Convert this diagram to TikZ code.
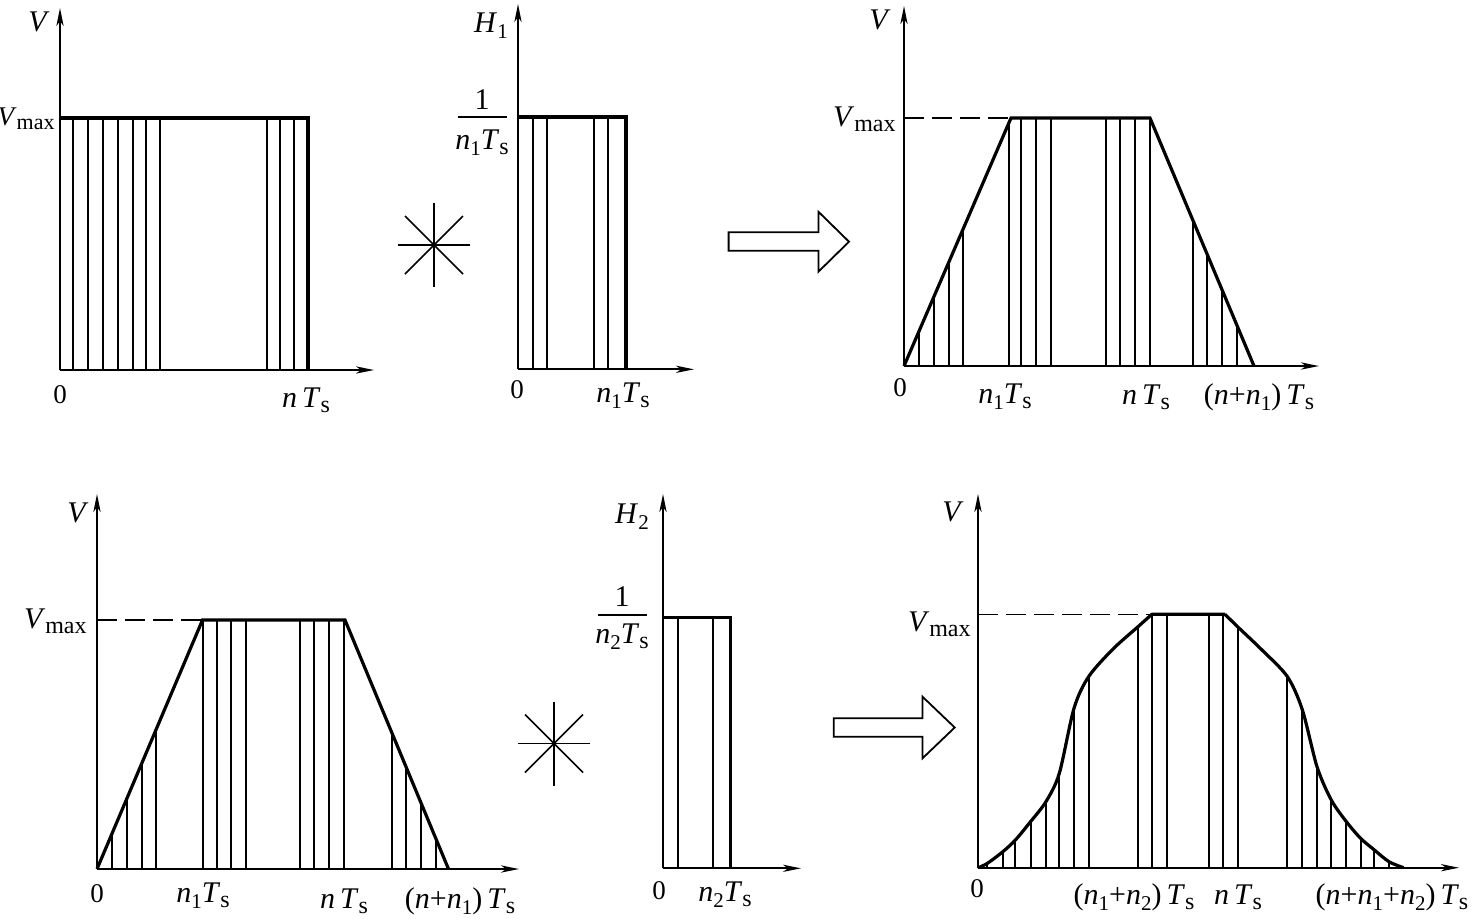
\documentclass[tikz,border=0pt]{standalone}
\usepackage{fontspec}
\setmainfont{Liberation Serif}
\usetikzlibrary{arrows.meta,calc}
\newcommand{\vi}[1]{\textit{#1}}
\newcommand{\lo}[1]{\raisebox{-0.35ex}{\fontsize{12}{12}\selectfont #1}}
\newcommand{\lon}[1]{\raisebox{-0.45ex}{\fontsize{10.5}{10.5}\selectfont #1}}
\newcommand{\Ts}{\vi{T}\lo{s}}
\newcommand{\Vmx}{\vi{V}\lo{max}}
\newcommand{\zero}{{\fontsize{13.5}{14}\selectfont 0}}
\begin{document}
\begin{tikzpicture}[x=0.5pt,y=-0.5pt,font=\fontsize{15}{17}\selectfont,
  axis/.style={line width=0.85pt,-{Stealth[length=9pt,width=3.6pt,inset=2.5pt]}},
  vbar/.style={line width=1pt},
  edge/.style={line width=1.6pt,line join=miter},
  vdash/.style={line width=0.8pt,dash pattern=on 10pt off 4pt},
  lbl/.style={inner sep=0pt},
  starline/.style={line width=0.75pt},
  hollow/.style={line width=0.9pt,fill=white,line join=miter}]
\useasboundingbox (0,0) rectangle (1473,918);

% ---------------- top-left ----------------
\coordinate (o1) at (60,370);
\coordinate (y1) at (60,8);
\coordinate (x1) at (374,370);
\foreach \x in {73.3,87.7,102.7,118,133.3,146,160,266.7,280,294}
  \draw[vbar] (\x,370) -- (\x,118);
\draw[edge] (60,118) -- (308,118) -- (308,370);
\draw[axis] (o1) -- (y1);
\draw[axis] (o1) -- (x1);
\node[lbl] (lV1) at (39,22) {\vi{V}};
\node[lbl,anchor=east,font=\fontsize{13.5}{15}\selectfont] (lVm1) at (55,119) {\vi{V}{\fontsize{11}{11}\selectfont\raisebox{-0.35ex}{max}}};
\node[lbl] (l01) at (60,395) {\zero};
\node[lbl] (lnT1) at (306,400) {\vi{n}\,\Ts};

% star 1
\coordinate (s1) at (434,245);
\draw[starline] ($(s1)+(-36,0)$) -- ($(s1)+(36,0)$);
\draw[starline] ($(s1)+(0,-42)$) -- ($(s1)+(0,42)$);
\draw[starline] ($(s1)+(-29,29)$) -- ($(s1)+(29,-29)$);
\draw[starline] ($(s1)+(-29,-29)$) -- ($(s1)+(29,29)$);

% ---------------- top-middle ----------------
\coordinate (o2) at (518,369.3);
\coordinate (y2) at (518,4);
\coordinate (x2) at (694,369.3);
\foreach \x in {532.7,546.7,594,608}
  \draw[vbar] (\x,369.3) -- (\x,117);
\draw[edge] (518,117) -- (626,117) -- (626,369.3);
\draw[axis] (o2) -- (y2);
\draw[axis] (o2) -- (x2);
\node[lbl] (lH1) at (491,26) {\vi{H}\lon{1}};
\node[lbl] (lnum1) at (482,100) {1};
\node[lbl] (lden1) at (482,143) {\vi{n}\lon{1}\Ts};
\draw[line width=0.8pt] (458,117) -- (507,117);
\node[lbl] (l02) at (517,390) {\zero};
\node[lbl] (ln1T2) at (623,396) {\vi{n}\lon{1}\Ts};

% hollow arrow 1
\draw[hollow] (728.6,232.3) -- (818.4,232.3) -- (818.4,211.7) -- (849,241.7)
  -- (818.4,271.7) -- (818.4,250.7) -- (728.6,250.7) -- cycle;

% ---------------- top-right ----------------
\coordinate (o3) at (904,366);
\coordinate (y3) at (904,6);
\coordinate (x3) at (1319,366);
\foreach \x/\y in {918.5/332.4,933.5/297.6,948.5/262.8,963/229.2,1009/122.6,
  1021/118,1036/118,1051/118,1106/118,1120/118,1135/118,1150/118,
  1193/220.5,1207/253.9,1222/289.7,1237/325.5}
  \draw[vbar] (\x,366) -- (\x,\y);
\draw[vdash] (904,118) -- (1011,118);
\draw[edge] (904,366) -- (1011,118) -- (1150,118) -- (1254,366);
\draw[axis] (o3) -- (y3);
\draw[axis] (o3) -- (x3);
\node[lbl] (lV3) at (880,20) {\vi{V}};
\node[lbl,anchor=east] (lVm3) at (896,119) {\Vmx};
\node[lbl] (l03) at (900,388) {\zero};
\node[lbl] (ln1T3) at (1005,397) {\vi{n}\lon{1}\Ts};
\node[lbl] (lnT3) at (1146,397) {\vi{n}\,\Ts};
\node[lbl] (lnn3) at (1259,397) {(\vi{n}+\vi{n}\lon{1})\,\Ts};

% ---------------- bottom-left ----------------
\coordinate (o4) at (97,869);
\coordinate (y4) at (97,494);
\coordinate (x4) at (519,869);
\foreach \x/\y in {112/833.6,126.5/799.4,141.5/764,156/729.8,
  202.5/620,216.5/620,231/620,246/620,300/620,314/620,329/620,344/620,
  391.5/731.9,405.5/765.5,420.5/801.6,435.5/837.7}
  \draw[vbar] (\x,869) -- (\x,\y);
\draw[vdash] (97,620) -- (202.5,620);
\draw[edge] (97,869) -- (202.5,620) -- (345,620) -- (448.5,869);
\draw[axis] (o4) -- (y4);
\draw[axis] (o4) -- (x4);
\node[lbl] (lV4) at (78,513) {\vi{V}};
\node[lbl,anchor=east] (lVm4) at (87,621) {\Vmx};
\node[lbl] (l04) at (97,894) {\zero};
\node[lbl] (ln1T4) at (203,896) {\vi{n}\lon{1}\Ts};
\node[lbl] (lnT4) at (344,901) {\vi{n}\,\Ts};
\node[lbl] (lnn4) at (460,901) {(\vi{n}+\vi{n}\lon{1})\,\Ts};

% star 2
\coordinate (s2) at (554,743.5);
\draw[starline] ($(s2)+(-36,0)$) -- ($(s2)+(36,0)$);
\draw[starline] ($(s2)+(0,-42)$) -- ($(s2)+(0,42)$);
\draw[starline] ($(s2)+(-29,29)$) -- ($(s2)+(29,-29)$);
\draw[starline] ($(s2)+(-29,-29)$) -- ($(s2)+(29,29)$);

% ---------------- bottom-middle ----------------
\coordinate (o5) at (663,868.3);
\coordinate (y5) at (663,494);
\coordinate (x5) at (801,868.3);
\foreach \x in {678.3,713.3}
  \draw[vbar] (\x,868.3) -- (\x,617.7);
\draw[edge] (663,617.7) -- (730.7,617.7) -- (730.7,868.3);
\draw[axis] (o5) -- (y5);
\draw[axis] (o5) -- (x5);
\node[lbl] (lH2) at (632,517) {\vi{H}\lon{2}};
\node[lbl] (lnum2) at (622,597) {1};
\node[lbl] (lden2) at (622,637) {\vi{n}\lon{2}\Ts};
\draw[line width=0.8pt] (598,615) -- (647,615);
\node[lbl] (l05) at (659,891) {\zero};
\node[lbl] (ln2T5) at (725,895) {\vi{n}\lon{2}\Ts};

% hollow arrow 2
\draw[hollow] (833.8,718.3) -- (922.5,718.3) -- (922.5,696.7) -- (954.7,727.5)
  -- (922.5,758.3) -- (922.5,736.7) -- (833.8,736.7) -- cycle;

% ---------------- bottom-right ----------------
\coordinate (o6) at (978,867.7);
\coordinate (y6) at (978,494);
\coordinate (x6) at (1459,867.7);
\foreach \x/\y in {987.4/863.3,1002.8/851.7,1015.4/840,1030.5/821.7,1045.9/801.7,
  1059.3/773.3,1074/708.3,1088.6/676.7,1138/626.7,1151.8/614.3,1167.3/614.3,
  1209.1/614.3,1222.9/614.3,1237.6/626.7,1287.4/676.7,1302.4/710,1317/766.7,
  1331.3/800,1346.4/821.7,1360.6/838.3,1374.4/850,1389/861.7}
  \draw[vbar] (\x,867.7) -- (\x,\y);
\draw[vdash] (978,614.3) -- (1151.8,614.3);
\draw[edge,line join=round] plot[smooth,tension=0.5] coordinates {(978.2,867.7) (987.4,863.3) (1002.8,851.7)
  (1015.4,840) (1030.5,821.7) (1045.9,801.7) (1059.3,773.3) (1074,708.3)
  (1088.6,676.7) (1113,649) (1138,626.7) (1151.8,614.3)}
  -- (1225,614.3)
  plot[smooth,tension=0.5] coordinates {(1225,614.3) (1237.6,626.7) (1262,650) (1287.4,676.7)
  (1302.4,710) (1317,766.7) (1331.3,800) (1346.4,821.7) (1360.6,838.3)
  (1374.4,850) (1389,861.7) (1403.7,867.7)};
\draw[axis] (o6) -- (y6);
\draw[axis] (o6) -- (x6);
\node[lbl] (lV6) at (953,512) {\vi{V}};
\node[lbl,anchor=east] (lVm6) at (971,624) {\Vmx};
\node[lbl] (l06) at (977,889) {\zero};
\node[lbl] (ln12T6) at (1134,897) {(\vi{n}\lon{1}+\vi{n}\lon{2})\,\Ts};
\node[lbl] (lnT6) at (1238,897) {\vi{n}\,\Ts};
\node[lbl] (lnnn6) at (1392,897) {(\vi{n}+\vi{n}\lon{1}+\vi{n}\lon{2})\,\Ts};
\end{tikzpicture}
\end{document}
